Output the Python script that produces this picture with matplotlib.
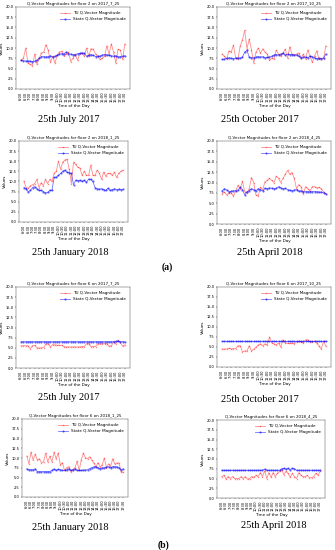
import matplotlib
matplotlib.use("Agg")
import matplotlib.pyplot as plt
import numpy as np

times = []
for h in range(6, 18):
    for m in (0, 15, 30, 45):
        times.append(f"{h}:{m:02d}")
times = times[:47]
tick_labels = times[::2]

titles = ["Q-Vector Magnitudes for floor 2 on 2017_7_25",
          "Q-Vector Magnitudes for floor 2 on 2017_10_25",
          "Q-Vector Magnitudes for floor 2 on 2018_1_25",
          "Q-Vector Magnitudes for floor 2 on 2018_4_25",
          "Q-Vector Magnitudes for floor 6 on 2017_7_25",
          "Q-Vector Magnitudes for floor 6 on 2017_10_25",
          "Q-Vector Magnitudes for floor 6 on 2018_1_25",
          "Q-Vector Magnitudes for floor 6 on 2018_4_25"]
captions = ["25th July 2017", "25th October 2017", "25th January 2018", "25th April 2018",
            "25th July 2017", "25th October 2017", "25th January 2018", "25th April 2018"]

tu_f2_jul = [7.0, 7.5, 10.0, 6.3, 6.0, 5.7, 8.5, 6.0, 7.5, 8.8, 9.0, 10.8, 9.5, 6.5, 8.0, 6.3, 8.3, 9.0, 9.2, 8.0,
             8.5, 9.0, 6.7, 7.5, 8.5, 7.0, 8.5, 8.7, 8.0, 10.0, 8.0, 9.8, 9.7, 8.5, 8.0, 7.2, 7.5, 8.0, 10.5, 8.5,
             11.0, 9.0, 6.3, 9.7, 9.5, 7.2, 11.0]
st_f2_jul = [7.0, 6.9, 6.8, 6.8, 6.8, 6.7, 6.8, 7.0, 7.5, 7.9, 7.9, 7.8, 7.9, 8.1, 7.8, 8.0, 8.2, 8.5, 8.6, 8.6,
             9.0, 8.6, 8.5, 8.4, 8.3, 8.6, 8.7, 8.8, 8.7, 8.0, 8.2, 8.4, 8.2, 7.9, 8.0, 8.0, 8.3, 8.4, 8.4, 8.2,
             8.1, 8.0, 8.1, 7.8, 7.9, 8.0, 8.1]
tu_f2_oct = [8.5, 8.0, 7.3, 9.3, 9.0, 10.7, 7.5, 7.3, 10.5, 12.0, 14.3, 9.8, 12.2, 9.5, 6.3, 9.0, 10.0, 8.7, 9.8, 9.0,
             8.5, 7.0, 7.5, 7.3, 9.5, 8.5, 8.0, 8.8, 9.7, 7.5, 10.3, 8.5, 8.3, 8.5, 8.8, 7.5, 8.5, 7.3, 9.5, 8.0,
             6.5, 8.0, 9.3, 7.2, 7.5, 7.3, 10.5]
st_f2_oct = [7.2, 7.3, 7.5, 7.6, 7.5, 7.4, 7.5, 7.6, 7.5, 7.8, 9.0, 9.4, 7.8, 7.6, 7.6, 7.8, 7.9, 7.8, 7.9, 7.6,
             7.7, 7.8, 8.0, 8.3, 8.4, 8.3, 8.5, 8.7, 8.3, 8.5, 8.4, 8.4, 8.3, 8.3, 8.0, 7.6, 7.8, 7.8, 7.6, 8.0,
             7.9, 7.6, 7.4, 7.5, 7.3, 7.6, 8.5]
tu_f2_jan = [10.0, 8.5, 8.3, 9.0, 9.2, 9.5, 10.5, 8.5, 9.7, 9.0, 10.5, 9.5, 10.5, 10.0, 12.0, 12.5, 15.0, 13.0, 14.8, 15.3,
             15.5, 13.0, 9.5, 14.7, 14.2, 13.5, 13.3, 11.5, 12.5, 11.5, 11.5, 14.0, 11.5, 11.5, 12.8, 12.0, 10.5, 12.3, 11.3, 12.0,
             12.0, 11.5, 12.3, 11.0, 12.0, 12.5, 12.8]
st_f2_jan = [8.5, 8.2, 7.4, 7.8, 8.5, 8.7, 8.2, 7.8, 7.8, 7.5, 7.2, 7.3, 7.8, 7.8, 11.0, 11.0, 11.5, 12.0, 12.5, 12.8,
             12.3, 12.2, 12.0, 9.2, 10.3, 10.2, 10.3, 10.0, 10.3, 9.8, 10.6, 10.5, 10.0, 8.5, 8.2, 8.1, 8.2, 8.0, 7.8, 8.3,
             7.8, 8.0, 8.2, 8.0, 8.1, 8.0, 8.1]
tu_f2_apr = [7.3, 7.7, 7.0, 7.5, 7.5, 6.7, 8.0, 9.3, 8.5, 10.3, 7.8, 7.5, 8.5, 11.2, 10.0, 7.0, 6.8, 8.8, 8.3, 10.2,
             10.5, 11.0, 10.5, 10.0, 11.5, 11.0, 10.0, 11.0, 12.0, 12.9, 12.0, 12.4, 11.0, 8.5, 9.5, 9.0, 7.3, 9.0, 8.5, 8.0,
             9.0, 9.0, 8.7, 8.8, 8.5, 7.8, 7.3]
st_f2_apr = [8.0, 8.5, 8.2, 7.8, 7.9, 8.0, 8.0, 8.2, 8.8, 8.3, 7.0, 7.8, 8.0, 8.5, 8.3, 8.0, 8.5, 8.3, 8.0, 8.6,
             8.5, 8.7, 8.6, 8.5, 8.6, 9.0, 8.7, 8.5, 8.6, 8.3, 8.1, 8.0, 8.2, 8.3, 7.9, 8.0, 7.8, 7.8, 7.8, 7.8,
             7.8, 7.8, 7.8, 7.7, 7.7, 7.5, 7.3]
tu_f6_jul = [5.5, 5.5, 5.5, 5.5, 4.8, 5.5, 5.6, 5.0, 4.9, 5.0, 5.0, 6.0, 6.0, 5.2, 5.8, 5.7, 5.6, 5.6, 5.6, 5.3,
             5.2, 5.2, 5.2, 5.2, 5.2, 5.2, 5.2, 5.3, 5.3, 6.0, 6.0, 5.3, 5.3, 5.3, 6.0, 6.0, 6.0, 6.0, 6.0, 5.4,
             5.4, 6.5, 6.0, 6.8, 6.3, 5.4, 5.7]
st_f6_jul = [6.5, 6.5, 6.5, 6.5, 6.5, 6.5, 6.5, 6.5, 6.5, 6.5, 6.5, 6.5, 6.5, 6.5, 6.5, 6.5, 6.5, 6.5, 6.5, 6.5,
             6.5, 6.5, 6.5, 6.5, 6.5, 6.5, 6.5, 6.5, 6.5, 6.5, 6.5, 6.5, 6.5, 6.5, 6.5, 6.5, 6.5, 6.5, 6.5, 6.5,
             6.5, 6.5, 6.6, 6.6, 6.5, 6.5, 6.5]
tu_f6_oct = [4.5, 4.5, 4.5, 4.7, 4.5, 4.6, 4.6, 5.3, 5.3, 3.8, 4.0, 4.0, 5.3, 4.0, 4.5, 5.0, 5.5, 5.8, 5.3, 5.8,
             5.5, 7.5, 6.0, 5.8, 5.5, 6.0, 5.0, 6.8, 6.0, 5.9, 5.9, 6.0, 5.8, 6.3, 6.4, 6.3, 6.0, 6.8, 6.8, 6.3,
             6.2, 6.5, 6.0, 5.2, 4.5, 6.5, 5.2]
st_f6_oct = [6.4, 6.4, 6.4, 6.4, 6.4, 6.4, 6.4, 6.4, 6.4, 6.4, 6.4, 6.4, 6.4, 6.4, 6.4, 6.4, 6.4, 6.4, 6.4, 6.4,
             6.4, 6.4, 6.4, 6.4, 6.4, 6.4, 6.4, 6.4, 6.4, 6.4, 6.4, 6.4, 6.4, 6.4, 6.4, 6.4, 6.4, 6.4, 6.4, 6.4,
             6.4, 6.4, 6.4, 6.4, 6.4, 6.4, 6.4]
tu_f6_jan = [10.5, 8.5, 11.5, 9.5, 11.0, 9.5, 9.8, 8.8, 9.0, 11.3, 9.0, 10.5, 9.0, 11.5, 9.8, 11.3, 8.2, 8.8, 6.8, 7.5,
             7.8, 6.5, 7.0, 7.5, 9.2, 6.8, 9.5, 11.2, 10.0, 9.8, 10.3, 9.5, 8.7, 7.8, 8.8, 7.7, 8.3, 10.0, 7.5, 8.5,
             7.8, 9.8, 8.5, 8.7, 8.7, 6.5, 6.3]
st_f6_jan = [7.2, 7.0, 7.0, 7.0, 7.2, 6.5, 6.5, 6.5, 6.5, 6.5, 6.5, 6.5, 6.8, 7.2, 6.8, 7.1, 7.0, 6.8, 6.8, 7.0,
             7.2, 6.8, 7.0, 7.2, 6.8, 6.8, 6.8, 6.9, 6.9, 7.0, 7.3, 7.5, 7.7, 7.8, 7.5, 7.2, 7.5, 7.5, 7.6, 7.8,
             7.5, 7.8, 7.8, 7.7, 7.5, 7.0, 7.2]
tu_f6_apr = [5.5, 5.8, 4.8, 5.5, 5.0, 5.5, 5.0, 5.0, 5.0, 5.5, 5.0, 5.5, 4.8, 5.0, 5.5, 5.3, 5.8, 5.5, 6.5, 5.5,
             7.0, 5.0, 6.5, 5.3, 6.5, 5.5, 6.3, 6.8, 7.3, 6.0, 6.8, 6.3, 5.3, 6.3, 5.5, 5.0, 6.5, 5.8, 5.5, 5.5,
             5.8, 5.2, 5.2, 5.5, 6.3, 5.8, 6.8]
st_f6_apr = [7.1, 7.1, 7.1, 7.1, 7.1, 7.1, 7.1, 7.1, 7.1, 7.1, 7.1, 7.1, 7.1, 7.1, 7.1, 7.1, 7.1, 7.1, 7.1, 7.1,
             7.4, 7.1, 7.1, 7.1, 7.1, 7.1, 7.1, 7.1, 7.5, 7.6, 7.4, 7.6, 7.2, 7.6, 7.5, 7.1, 7.1, 7.1, 7.1, 7.1,
             7.1, 7.1, 7.1, 7.1, 7.1, 7.1, 7.1]

tu_series = [tu_f2_jul, tu_f2_oct, tu_f2_jan, tu_f2_apr, tu_f6_jul, tu_f6_oct, tu_f6_jan, tu_f6_apr]
st_series = [st_f2_jul, st_f2_oct, st_f2_jan, st_f2_apr, st_f6_jul, st_f6_oct, st_f6_jan, st_f6_apr]

W, H = 335, 550
# axes boxes in pixels: (x0, y_top, x1, y_bottom)
boxes = [(16, 7, 130, 89), (217, 7, 331, 89),
         (19, 141, 128, 222), (217, 141, 331, 224),
         (16, 287, 130, 368), (217, 287, 331, 367),
         (22, 419, 128, 497), (217, 420, 325, 498)]
cap_pos = [(69, 119), (260, 119), (70, 252), (270, 252),
           (69, 398), (260, 399), (70, 527), (274, 525)]

fig = plt.figure(figsize=(W / 100, H / 100), dpi=100)
fig.patch.set_facecolor("white")

for i in range(8):
    x0, yt, x1, yb = boxes[i]
    ax = fig.add_axes([x0 / W, 1 - yb / H, (x1 - x0) / W, (yb - yt) / H])
    tu = tu_series[i]
    st = st_series[i]
    ax.plot(np.arange(len(tu)), tu, color="red", alpha=0.45, lw=0.6, marker="x", ms=1.0, mew=0.4,
            label="TU Q-Vector Magnitude")
    ax.plot(np.arange(len(st)), st, color="blue", alpha=0.55, lw=0.6, marker=".", ms=1.2,
            label="State Q-Vector Magnitude")
    ax.set_ylim(0, 20)
    ax.set_yticks(np.arange(0, 20.01, 2.5))
    ax.set_xticks(np.arange(0, len(times), 2))
    ax.set_xticklabels(tick_labels, rotation=90)
    ax.tick_params(labelsize=2.6, length=1, width=0.3, pad=0.8)
    for s in ax.spines.values():
        s.set_linewidth(0.35)
        s.set_color("#555555")
    ax.set_title(titles[i], fontsize=2.9, pad=1.2)
    ax.set_xlabel("Time of the Day", fontsize=3.0, labelpad=1)
    ax.set_ylabel("Values", fontsize=3.0, labelpad=1)
    ax.legend(loc="upper right", fontsize=3.0, frameon=False, handlelength=2.2,
              borderaxespad=0.6, labelspacing=0.5)
    cx, cy = cap_pos[i]
    fig.text(cx / W, 1 - cy / H, captions[i], ha="center", va="center",
             fontsize=7.5, family="Liberation Serif")

fig.text(167 / W, 1 - 267 / H, "(a)", ha="center", va="center", fontsize=7, family="Liberation Serif",
         weight="bold")
fig.text(163 / W, 1 - 545 / H, "(b)", ha="center", va="center", fontsize=7, family="Liberation Serif",
         weight="bold")

fig.savefig("out.png", dpi=100)
